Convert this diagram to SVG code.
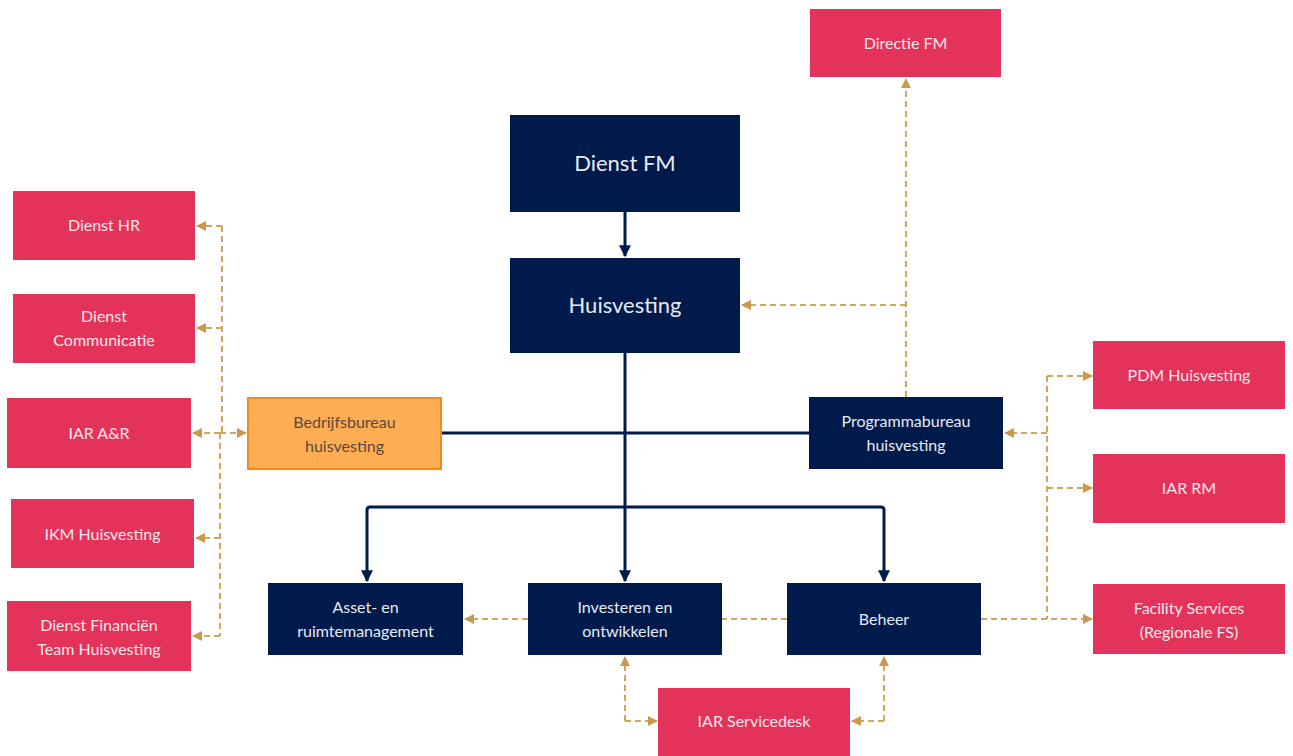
<svg xmlns="http://www.w3.org/2000/svg" width="1293" height="756" viewBox="0 0 1293 756">
<style>
.pink rect{fill:#E3335A}
.pink text{fill:#FCE6EB;font-family:Lato,"Open Sans",sans-serif;font-size:16px;text-anchor:middle}
.navy rect{fill:#001A4B}
.navy text{fill:#E6EAF2;font-family:Lato,"Open Sans",sans-serif;font-size:16px;text-anchor:middle}
.big text{font-size:22px}
.orange rect{fill:#FFAD55;stroke:#F08A1E;stroke-width:2}
.orange text{fill:#5A4A3A;font-family:Lato,"Open Sans",sans-serif;font-size:16px;text-anchor:middle}
.solid{fill:none;stroke:#001A4B;stroke-width:3}
.dash{fill:none;stroke:#D0A55E;stroke-width:2;stroke-dasharray:6 4}
</style>
<defs>
<marker id="an" viewBox="0 0 10 10" refX="9" refY="5" markerWidth="4" markerHeight="4" orient="auto" markerUnits="strokeWidth"><path d="M0,0 L10,5 L0,10 z" fill="#001A4B"/></marker>
<marker id="ag" viewBox="0 0 10 10" refX="9" refY="5" markerWidth="5" markerHeight="5" orient="auto" markerUnits="strokeWidth"><path d="M0,0 L10,5 L0,10 z" fill="#C99A4E"/></marker>
</defs>

<g id="connectors">
<path class="solid" d="M625,212 V256" marker-end="url(#an)"/>
<path class="solid" d="M625,353 V581" marker-end="url(#an)"/>
<path class="solid" d="M441,433 H809"/>
<path class="solid" d="M625,507 H370 Q367,507 367,510 V581" marker-end="url(#an)"/>
<path class="solid" d="M625,507 H881 Q884,507 884,510 V581" marker-end="url(#an)"/>

<path class="dash" d="M222,226 H197" marker-end="url(#ag)"/>
<path class="dash" d="M222,328 H197" marker-end="url(#ag)"/>
<path class="dash" d="M222,226 V433"/>
<path class="dash" d="M220,433 V636"/>
<path class="dash" d="M220,433 H193" marker-end="url(#ag)"/>
<path class="dash" d="M220,433 H246" marker-end="url(#ag)"/>
<path class="dash" d="M220,538 H196" marker-end="url(#ag)"/>
<path class="dash" d="M220,636 H193" marker-end="url(#ag)"/>

<path class="dash" d="M906,397 V79" marker-end="url(#ag)"/>
<path class="dash" d="M906,305 H742" marker-end="url(#ag)"/>

<path class="dash" d="M1047,376 V619"/>
<path class="dash" d="M1047,376 H1092" marker-end="url(#ag)"/>
<path class="dash" d="M1047,488 H1092" marker-end="url(#ag)"/>
<path class="dash" d="M1047,433 H1005" marker-end="url(#ag)"/>
<path class="dash" d="M981,619 H1092" marker-end="url(#ag)"/>

<path class="dash" d="M528,619 H465" marker-end="url(#ag)"/>
<path class="dash" d="M787,619 H722"/>
<path class="dash" d="M625,721 V657" marker-end="url(#ag)"/>
<path class="dash" d="M625,721 H657" marker-end="url(#ag)"/>
<path class="dash" d="M884,721 V657" marker-end="url(#ag)"/>
<path class="dash" d="M884,721 H852" marker-end="url(#ag)"/>
</g>

<g id="directie-fm" class="pink"><rect x="810" y="9" width="191" height="68"/><text x="905.5" y="49">Directie FM</text></g>
<g id="dienst-fm" class="navy big"><rect x="510" y="115" width="230" height="97"/><text x="625" y="171">Dienst FM</text></g>
<g id="huisvesting" class="navy big"><rect x="510" y="258" width="230" height="95"/><text x="625" y="313">Huisvesting</text></g>

<g id="dienst-hr" class="pink"><rect x="13" y="191" width="182" height="69"/><text x="104" y="231">Dienst HR</text></g>
<g id="dienst-communicatie" class="pink"><rect x="13" y="294" width="182" height="69"/><text x="104" y="322">Dienst</text><text x="104" y="346">Communicatie</text></g>
<g id="iar-ar" class="pink"><rect x="7" y="398" width="184" height="70"/><text x="99" y="439">IAR A&amp;R</text></g>
<g id="ikm-huisvesting" class="pink"><rect x="11" y="499" width="183" height="69"/><text x="102.5" y="540">IKM Huisvesting</text></g>
<g id="dienst-financien" class="pink"><rect x="7" y="601" width="184" height="70"/><text x="99" y="631">Dienst Financiën</text><text x="99" y="655">Team Huisvesting</text></g>

<g id="bedrijfsbureau" class="orange"><rect x="248" y="398" width="193" height="71"/><text x="344.5" y="428">Bedrijfsbureau</text><text x="344.5" y="452">huisvesting</text></g>
<g id="programmabureau" class="navy"><rect x="809" y="397" width="194" height="72"/><text x="906" y="427">Programmabureau</text><text x="906" y="451">huisvesting</text></g>

<g id="pdm-huisvesting" class="pink"><rect x="1093" y="341" width="192" height="68"/><text x="1189" y="381">PDM Huisvesting</text></g>
<g id="iar-rm" class="pink"><rect x="1093" y="454" width="192" height="69"/><text x="1189" y="494">IAR RM</text></g>
<g id="facility-services" class="pink"><rect x="1093" y="584" width="192" height="70"/><text x="1189" y="614">Facility Services</text><text x="1189" y="638">(Regionale FS)</text></g>

<g id="asset" class="navy"><rect x="268" y="583" width="195" height="72"/><text x="365.5" y="613">Asset- en</text><text x="365.5" y="637">ruimtemanagement</text></g>
<g id="investeren" class="navy"><rect x="528" y="583" width="194" height="72"/><text x="625" y="613">Investeren en</text><text x="625" y="637">ontwikkelen</text></g>
<g id="beheer" class="navy"><rect x="787" y="583" width="194" height="72"/><text x="884" y="625">Beheer</text></g>

<g id="iar-servicedesk" class="pink"><rect x="658" y="688" width="192" height="68"/><text x="754" y="727">IAR Servicedesk</text></g>
</svg>
